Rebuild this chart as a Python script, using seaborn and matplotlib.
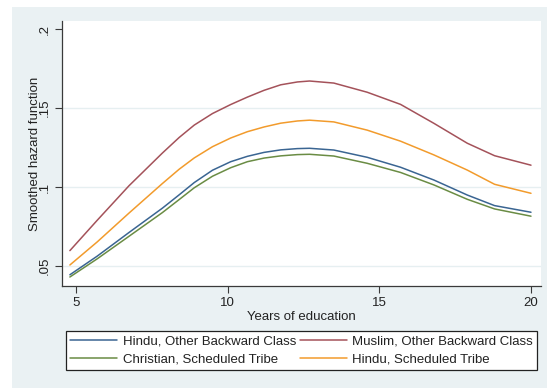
import numpy as np
import pandas as pd
import matplotlib
matplotlib.use("Agg")
import matplotlib.pyplot as plt
from matplotlib.patches import Rectangle
import seaborn as sns

# ---- data ----
years = [4.8, 5.7, 6.75, 7.85, 8.4, 8.9, 9.5, 10.1, 10.65, 11.2, 11.75, 12.3, 12.7,
         13.5, 14.6, 15.7, 16.8, 17.9, 18.8, 20.0]
hindu_obc = [0.0444, 0.0562, 0.0712, 0.0866, 0.0950, 0.1028, 0.1106, 0.1160, 0.1194, 0.1219,
             0.1235, 0.1243, 0.1245, 0.1234, 0.1188, 0.1125, 0.1044, 0.0949, 0.0882, 0.0840]
muslim_obc = [0.0597, 0.0789, 0.1008, 0.1215, 0.1313, 0.1392, 0.1465, 0.1522, 0.1569, 0.1612,
              0.1647, 0.1665, 0.1671, 0.1658, 0.1600, 0.1523, 0.1403, 0.1277, 0.1198, 0.1138]
christian_st = [0.0430, 0.0545, 0.0688, 0.0838, 0.0920, 0.0995, 0.1068, 0.1122, 0.1160, 0.1183,
                0.1197, 0.1205, 0.1207, 0.1196, 0.1150, 0.1092, 0.1013, 0.0922, 0.0861, 0.0815]
hindu_st = [0.0506, 0.0652, 0.0835, 0.1022, 0.1112, 0.1184, 0.1255, 0.1310, 0.1350, 0.1380,
            0.1404, 0.1418, 0.1423, 0.1412, 0.1360, 0.1290, 0.1203, 0.1107, 0.1017, 0.0960]

series_names = ["Hindu, Other Backward Class", "Muslim, Other Backward Class",
                "Christian, Scheduled Tribe", "Hindu, Scheduled Tribe"]
series_values = [hindu_obc, muslim_obc, christian_st, hindu_st]
colors = ["#3a6592", "#a4525a", "#6a8c44", "#f29b2c"]

y_ticks = [0.05, 0.10, 0.15, 0.20]
y_ticklabels = [".05", ".1", ".15", ".2"]
x_ticks = [5, 10, 15, 20]
x_ticklabels = ["5", "10", "15", "20"]

rows = []
for name, vals in zip(series_names, series_values):
    for x, v in zip(years, vals):
        rows.append({"years": x, "hazard": v, "group": name})
df = pd.DataFrame(rows)

sns.set_theme(style="white")
plt.rcParams["font.family"] = ["Liberation Sans", "DejaVu Sans"]

W, H = 547, 388
fig = plt.figure(figsize=(W / 100, H / 100), dpi=100)
fig.patch.set_facecolor("white")
bg = "#eaf1f3"
fig.patches.append(Rectangle((12 / W, 0), 1 - 12 / W, 1 - 7 / H, transform=fig.transFigure,
                             facecolor=bg, edgecolor="none", zorder=-10))

ax = fig.add_axes([62 / W, 1 - 286 / H, (541 - 62) / W, (286 - 21) / H])
ax.set_facecolor("white")

sns.lineplot(data=df, x="years", y="hazard", hue="group", hue_order=series_names,
             palette=colors, linewidth=1.1, ax=ax, sort=False, estimator=None)

ax.set_xlim(4.54, 20.33)
ax.set_ylim(0.0373, 0.2051)
ax.set_xticks(x_ticks)
ax.set_xticklabels(x_ticklabels)
ax.set_yticks(y_ticks)
ax.set_yticklabels(y_ticklabels, rotation=90, va="center")

for t in [0.05, 0.10, 0.15]:
    ax.axhline(t, color="#e6eff1", linewidth=1.0, zorder=0)

for s in ["top", "right"]:
    ax.spines[s].set_visible(False)
for s in ["left", "bottom"]:
    ax.spines[s].set_color("#3a3a3a")
    ax.spines[s].set_linewidth(0.9)

ax.tick_params(axis="both", which="major", direction="out", length=5, width=0.8,
               color="#3a3a3a", labelcolor="#222222", labelsize=9.5, pad=3,
               left=True, bottom=True)

ax.set_xlabel("Years of education", fontsize=9.5, color="#222222", labelpad=1)
ax.set_ylabel("Smoothed hazard function", fontsize=9.5, color="#222222")
ax.yaxis.set_label_coords((41 - 62) / (541 - 62), 0.5)

handles, labels = ax.get_legend_handles_labels()
ax.get_legend().remove()
hmap = dict(zip(labels, handles))
order = [series_names[0], series_names[2], series_names[1], series_names[3]]
leg = fig.legend([hmap[n] for n in order], order, ncol=2,
                 bbox_to_anchor=(66 / W, 1 - 372 / H, (537 - 66) / W, (372 - 329) / H),
                 loc="center", mode="expand", fontsize=9.5, frameon=True, fancybox=False,
                 shadow=False, handlelength=3.6, handletextpad=0.4, columnspacing=1.0,
                 labelspacing=0.45, borderpad=0.3, borderaxespad=0)
leg.get_frame().set_edgecolor("#222222")
leg.get_frame().set_linewidth(0.9)
leg.get_frame().set_facecolor("white")
leg.get_frame().set_alpha(1)
for txt in leg.get_texts():
    txt.set_color("#222222")

fig.savefig("out.png", dpi=100, facecolor=fig.get_facecolor())
